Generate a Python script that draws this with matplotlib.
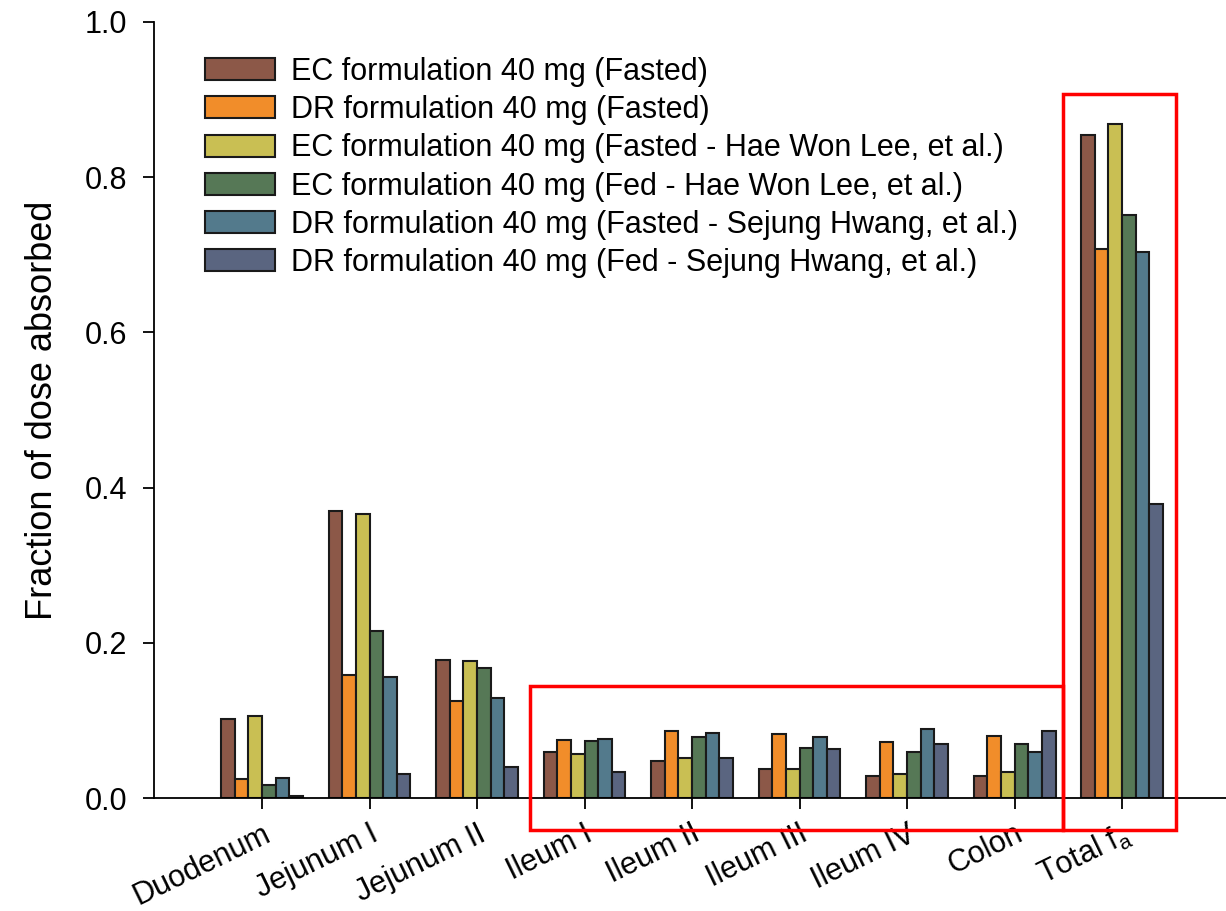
import numpy as np
import matplotlib
matplotlib.use("Agg")
import matplotlib.pyplot as plt
from matplotlib.patches import Rectangle

plt.rcParams['font.family'] = ['Liberation Sans', 'DejaVu Sans']

# 소화관 부위별 흡수 분율
regions = ["Duodenum", "Jejunum I", "Jejunum II", "Ileum I", "Ileum II",
           "Ileum III", "Ileum IV", "Colon", r"Total $\mathregular{f_a}$"]

series_labels = [
    "EC formulation 40 mg (Fasted)",
    "DR formulation 40 mg (Fasted)",
    "EC formulation 40 mg (Fasted - Hae Won Lee, et al.)",
    "EC formulation 40 mg (Fed - Hae Won Lee, et al.)",
    "DR formulation 40 mg (Fasted - Sejung Hwang, et al.)",
    "DR formulation 40 mg (Fed - Sejung Hwang, et al.)",
]

ec_fasted = [0.102, 0.370, 0.178, 0.059, 0.048, 0.037, 0.029, 0.028, 0.854]
dr_fasted = [0.025, 0.158, 0.125, 0.075, 0.087, 0.082, 0.072, 0.080, 0.707]
ec_fasted_lee = [0.106, 0.366, 0.177, 0.057, 0.051, 0.038, 0.031, 0.034, 0.868]
ec_fed_lee = [0.017, 0.215, 0.167, 0.074, 0.078, 0.065, 0.059, 0.070, 0.751]
dr_fasted_hwang = [0.026, 0.156, 0.129, 0.076, 0.084, 0.079, 0.089, 0.059, 0.703]
dr_fed_hwang = [0.002, 0.031, 0.040, 0.034, 0.052, 0.063, 0.069, 0.086, 0.379]

colors = ["#8C5848", "#F18D2A", "#C9BF53", "#567856", "#537A8C", "#5A6580"]

all_series = [ec_fasted, dr_fasted, ec_fasted_lee, ec_fed_lee,
              dr_fasted_hwang, dr_fed_hwang]

fig = plt.figure(figsize=(12.26, 9.11), dpi=100)
ax = fig.add_axes([0.1256, 0.124, 0.8744, 0.852])

x = np.arange(len(regions))
width = 0.127
n = len(all_series)
for i, (vals, lab, c) in enumerate(zip(all_series, series_labels, colors)):
    offset = (i - (n - 1) / 2) * width
    ax.bar(x + offset, vals, width, color=c, edgecolor="#1a1a1a",
           linewidth=1.5, label=lab)

ax.set_xlim(-1.005, 8.967)
ax.set_ylim(0, 1.0)
ax.set_yticks([0.0, 0.2, 0.4, 0.6, 0.8, 1.0])
ax.set_yticklabels(["0.0", "0.2", "0.4", "0.6", "0.8", "1.0"])
ax.set_xticks(x)
ax.set_xticklabels(regions, rotation=26, ha="right", va="top",
                   rotation_mode="anchor", fontsize=21.5)
ax.tick_params(axis="both", labelsize=22, length=8, width=1.3,
               direction="out")
ax.tick_params(axis="y", pad=11)
ax.tick_params(axis="x", pad=7)
ax.set_ylabel("Fraction of dose absorbed", fontsize=26, labelpad=18)

for s in ["top", "right"]:
    ax.spines[s].set_visible(False)
for s in ["left", "bottom"]:
    ax.spines[s].set_linewidth(1.3)

# 강조 박스 (빨간 사각형)
box_ileum = (2.493, -0.041, 7.454 - 2.493, 0.144 + 0.041)
box_total = (7.454, -0.041, 8.502 - 7.454, 0.907 + 0.041)
for bx, by, bw, bh in [box_ileum, box_total]:
    ax.add_patch(Rectangle((bx, by), bw, bh, fill=False, edgecolor="red",
                           linewidth=2.5, clip_on=False, zorder=5))

ax.legend(loc="upper left", bbox_to_anchor=(0.0476, 0.955), frameon=False,
          fontsize=22, handlelength=2.3, handleheight=0.72,
          labelspacing=0.27, handletextpad=0.5, borderpad=0,
          borderaxespad=0)

fig.savefig("out.png", dpi=100)
